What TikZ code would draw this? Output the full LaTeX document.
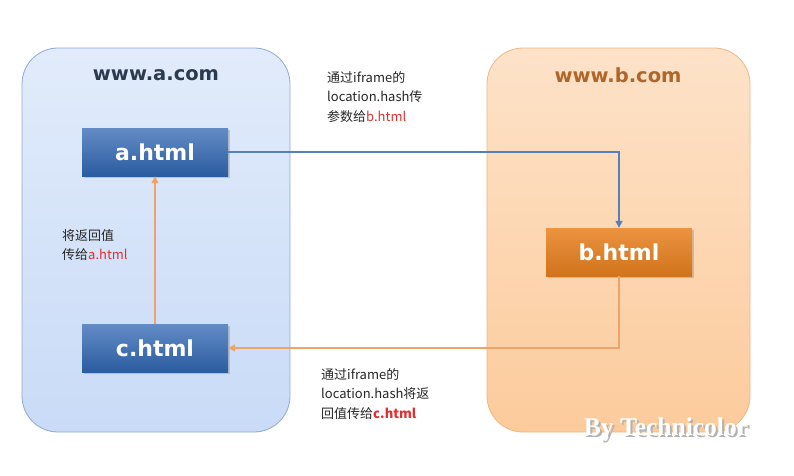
\documentclass[tikz,border=0pt]{standalone}
\usepackage{fontspec}
\setmainfont{Noto Sans CJK SC}
\newfontfamily\boxfont{DejaVu Sans}
\newfontfamily\signfont{Liberation Serif}
\usepackage{xcolor}
\usetikzlibrary{arrows.meta}
\usetikzlibrary{positioning}
\usetikzlibrary{shadows}

\definecolor{siteblue}{HTML}{C9DBF7}
\definecolor{siteblueline}{HTML}{8FA9CF}
\definecolor{siteorange}{HTML}{FCCB9C}
\definecolor{siteorangeline}{HTML}{F0B682}
\definecolor{pageblue}{HTML}{2F66B2}
\definecolor{pageorange}{HTML}{E8801E}
\definecolor{linkblue}{HTML}{5580BA}
\definecolor{linkorange}{HTML}{EFA366}
\definecolor{titleblue}{HTML}{2B3A4E}
\definecolor{titlebrown}{HTML}{B0652A}
\definecolor{notered}{HTML}{E0302F}

\begin{document}
\begin{tikzpicture}[x=1pt,y=-1pt,
    site/.style={rounded corners=36pt, line width=0.8pt},
    page/.style={minimum width=146pt, minimum height=48pt, inner sep=0pt,
      text=white, font=\boxfont\bfseries\fontsize{22}{24}\selectfont,
      drop shadow={opacity=0.35, shadow xshift=1.5pt, shadow yshift=-1.5pt}},
    link/.style={line width=1.6pt, -{Triangle[length=7pt,width=7pt]}},
    note/.style={align=left, anchor=north west, inner sep=0pt,
      font=\fontsize{13}{19.5}\selectfont, text=black!85}]
    \useasboundingbox (0,0) rectangle (794,475);

    % www.a.com
    \shade[site, top color=siteblue!55, bottom color=siteblue, draw=siteblueline]
      (22,48) rectangle (290,432);
    \node[font=\boxfont\bfseries\fontsize{19.5}{22}\selectfont, text=titleblue]
      (atitle) at (156,75) {www.a.com};

    % www.b.com
    \shade[site, top color=siteorange!55, bottom color=siteorange, draw=siteorangeline]
      (487,48) rectangle (750,432);
    \node[font=\boxfont\bfseries\fontsize{19.5}{22}\selectfont, text=titlebrown]
      (btitle) at (618,75) {www.b.com};

    % pages
    \node[page, top color=pageblue!75, bottom color=pageblue!90!black] (a) at (155,152) {a.html};
    \node[page, top color=pageblue!75, bottom color=pageblue!90!black] (c) at (155,348) {c.html};
    \node[page, top color=pageorange!85, bottom color=pageorange!90!black] (b) at (619,252) {b.html};

    % connectors
    \draw[link, linkblue] (a.east) -| (b.north);
    \draw[link, linkorange] (b.south) |- (c.east);
    \draw[link, linkorange] (c.north) -- (a.south);

    % notes
    \node[note] (n1) at (327,71) {通过iframe的\\location.hash传\\参数给\textcolor{notered}{b.html}};
    \node[note] (n2) at (321,368) {通过iframe的\\location.hash将返\\回值传给\textcolor{notered}{\bfseries c.html}};
    \node[note] (n3) at (62,229) {将返回值\\传给\textcolor{notered}{a.html}};

    % signature
    \node[font=\signfont\bfseries\fontsize{25.5}{28}\selectfont, text=white] (sign) at (666,430)
      {\makebox[0pt][l]{\hspace{2pt}\raisebox{-2pt}{\textcolor{black!30}{By Technicolor}}}By Technicolor};
\end{tikzpicture}
\end{document}
